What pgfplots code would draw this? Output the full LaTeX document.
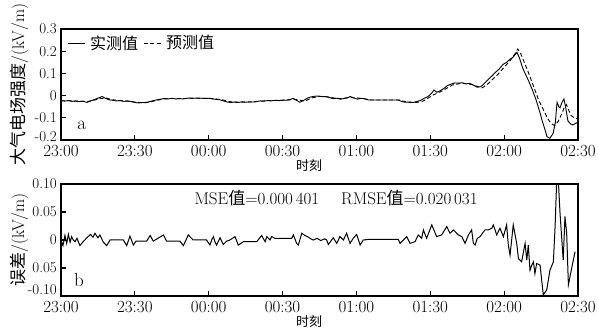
\documentclass[border=0pt]{standalone}
\usepackage{pgfplots}
\pgfplotsset{compat=1.18}
\usepackage{pgfplotstable}
\usepackage{fontspec}
\newfontfamily\cjk{Noto Sans CJK SC}
\pgfplotstableread{
m v
0 -0.022
1.5 -0.025
3 -0.022
4.5 -0.026
6 -0.024
7.5 -0.027
9 -0.025
10.5 -0.031
12 -0.024
13.5 -0.018
15 -0.012
16.7 -0.004
18 -0.012
19.5 -0.019
21 -0.021
22.5 -0.024
24 -0.022
25.5 -0.026
27 -0.024
28.5 -0.027
30 -0.031
31.5 -0.033
33 -0.031
34.5 -0.032
36 -0.027
37.5 -0.023
39 -0.019
40.5 -0.016
42 -0.013
43.5 -0.015
45 -0.012
46.5 -0.015
48 -0.013
49.5 -0.015
51 -0.012
52.5 -0.011
54 -0.012
55.5 -0.011
57 -0.012
58.5 -0.013
60 -0.012
61.5 -0.015
63 -0.017
64.5 -0.019
66 -0.024
67.5 -0.029
69 -0.031
70.5 -0.029
72 -0.031
73.5 -0.028
75 -0.030
76.5 -0.028
78 -0.029
79.5 -0.026
81 -0.024
82.5 -0.025
84 -0.022
85.5 -0.024
87 -0.021
88.5 -0.023
90 -0.020
91.5 -0.021
93 -0.018
94.3 -0.012
95.5 -0.020
97 -0.030
98.5 -0.022
100 -0.012
101.5 -0.006
103 -0.003
104.5 -0.002
106 -0.004
107.5 -0.005
109 -0.008
110.5 -0.014
112 -0.012
113.5 -0.016
115 -0.013
116.5 -0.009
117.5 -0.004
119 -0.011
120.5 -0.016
122 -0.012
123.5 -0.015
125 -0.020
137 -0.020
138.5 -0.027
140 -0.030
141.5 -0.029
143 -0.031
144.5 -0.027
146 -0.022
147.5 -0.012
149 -0.005
150.5 0.010
151.5 0.025
152.7 0.015
154 0.022
155.5 0.032
157 0.045
158.5 0.052
160 0.057
161.5 0.056
163 0.058
164.5 0.053
166 0.055
167.5 0.047
169 0.038
170.5 0.040
172 0.055
173.5 0.072
175 0.088
176.5 0.105
178 0.120
179.5 0.140
181 0.150
182.5 0.165
183.5 0.172
184.5 0.185
185.2 0.195
186.2 0.170
187.5 0.125
188.5 0.100
190 0.065
191.5 0.025
193 -0.020
194.5 -0.075
195.5 -0.115
196.5 -0.150
197.4 -0.185
198.6 -0.192
199.9 -0.170
200.8 -0.120
201.5 -0.030
202.2 -0.050
202.7 -0.055
203.5 -0.030
204.3 -0.015
205.1 -0.060
205.9 -0.114
207 -0.128
208 -0.132
209 -0.125
210 -0.120
}\measured
\pgfplotstableread{
m v
0 -0.023
3 -0.023
6 -0.025
9 -0.026
12 -0.025
15 -0.016
18 -0.010
21 -0.019
24 -0.023
27 -0.025
30 -0.029
33 -0.032
36 -0.029
39 -0.021
42 -0.015
45 -0.013
48 -0.014
51 -0.013
54 -0.012
57 -0.012
60 -0.012
63 -0.015
66 -0.020
69 -0.028
72 -0.030
75 -0.029
78 -0.029
81 -0.025
84 -0.023
87 -0.022
90 -0.021
93 -0.019
96 -0.018
99 -0.025
102 -0.010
105 -0.004
108 -0.005
111 -0.011
114 -0.014
117 -0.009
120 -0.010
123 -0.014
126 -0.020
137.7 -0.020
139 -0.025
141 -0.030
143 -0.031
145 -0.030
147 -0.025
149 -0.012
151 0.002
153 0.012
155 0.022
157 0.035
159 0.048
161 0.052
163 0.055
165 0.053
167 0.050
169 0.042
171 0.035
173 0.048
175 0.070
177 0.090
179 0.115
181 0.140
183 0.165
184.5 0.190
185.5 0.210
186.5 0.195
188 0.155
190 0.100
192 0.040
194 -0.020
196 -0.065
197.5 -0.100
199 -0.125
200.5 -0.135
202 -0.115
203.5 -0.080
204.5 -0.050
205.3 -0.040
206 -0.060
207.2 -0.090
208.5 -0.100
210 -0.105
}\predicted
\pgfplotstableread{
m v
0 0
0.8 -0.010
1.6 0.008
2.3 -0.006
3 0.010
3.7 -0.004
4.3 0.006
5 0.000
5.7 -0.003
6.5 0.003
7.7 -0.010
9 -0.003
10.5 0.004
12 0.010
13 0.005
13.8 0.012
15 0.004
15.8 0.009
17.2 -0.004
18.6 -0.010
19.9 0.000
25.3 0.000
26.7 -0.010
28 0.007
29.4 -0.009
30.5 -0.002
34.8 -0.002
36.2 0.008
37.5 -0.002
41.6 0.009
42.9 -0.002
48.3 -0.002
49.7 -0.010
51.7 0.009
53.7 0.000
59.1 0.000
60.5 -0.009
61.2 0.000
61.9 0.006
62.5 -0.003
63.2 -0.009
64.6 0.004
65.9 -0.008
67.3 -0.002
68.6 0.000
70.7 0.006
72.0 -0.009
74.1 -0.003
79.5 -0.003
81.5 0.008
82.9 -0.003
83.6 0.006
84.9 0.000
85.6 0.006
86.9 0.003
93.7 0.003
94.4 0.009
95.7 -0.006
96.4 -0.009
97.8 0.012
99.1 0.008
100.5 0.005
101.5 0.002
102.5 0.000
104 0.003
105.5 -0.001
107 0.002
107.9 0.000
108.6 -0.008
110.6 0.004
112 -0.006
113.3 0.006
114.7 0.000
116 0.012
117.4 -0.006
118.7 0.003
120.1 0.010
121.5 -0.009
122.8 0.000
124.8 0.001
137 0.001
137.7 -0.006
139.1 0.000
140.4 0.006
141.8 -0.006
143.8 -0.003
145.1 0.009
146.5 0.003
147.2 0.018
148.5 0.003
150.6 0.027
152.6 0.006
154.6 0.009
156.7 0.024
158.0 0.012
159.4 0.018
161.4 0.009
162.8 0.006
164.1 -0.006
165.5 0.009
166.8 0.018
167.5 -0.006
168.2 -0.009
169.1 0.003
170.2 0.006
172.2 0.018
173.6 0.018
175.0 0.021
175.6 0.027
177.0 0.009
178.3 0.021
179.7 0.006
181.0 0.027
181.7 -0.009
182.4 -0.027
183.7 0.027
185.1 -0.006
185.8 -0.033
187.1 -0.039
188.5 -0.006
189.2 -0.036
189.8 -0.009
190.5 -0.054
191.2 -0.045
191.9 -0.039
192.5 -0.060
193.2 -0.042
194.6 -0.045
195.9 -0.098
197.3 -0.089
198.6 -0.054
200.0 -0.039
200.7 0.024
201.3 0.101
202.0 0.108
202.7 0.048
204.0 -0.036
204.7 0.042
205.4 0.012
206.1 -0.080
207.4 -0.051
208.8 -0.021
}\errdata
\pgfplotsset{
  base/.style={
    scale only axis, width=517pt,
    xmin=0, xmax=210,
    xtick={0,30,...,210},
    xticklabels={23:00,23:30,00:00,00:30,01:00,01:30,02:00,02:30},
    tick align=inside, xtick pos=left, ytick pos=left,
    major tick length=5pt,
    axis line style={line width=1.2pt},
    every tick/.style={black, line width=1.2pt},
    xticklabel style={font=\fontsize{17}{19}\selectfont, inner sep=1pt, yshift=-4pt},
    yticklabel style={font=\fontsize{15}{18}\selectfont, inner sep=2pt, xshift=-2pt},
    ylabel style={at={(axis description cs:-0.081,0.5)}, anchor=center, font=\fontsize{17}{20}\selectfont},
    xlabel style={anchor=center, font=\cjk\fontsize{13}{15}\selectfont},
    legend cell align=left,
  }
}
\begin{document}
\begin{tikzpicture}
\useasboundingbox (-61pt,-189pt) rectangle (537pt,140pt);
\begin{axis}[base, at={(0pt,0pt)}, anchor=south west, height=111pt,
  ymin=-0.2, ymax=0.3,
  ytick={-0.2,-0.1,0,0.1,0.2,0.3},
  yticklabels={\raisebox{-1.5pt}[0pt][0pt]{-0.2},{-}0.1,0,0.1,0.2,0.3},
  ylabel={{\cjk 大气电场强度}/(kV/m)},
  xlabel={时刻},
  xlabel style={at={(axis description cs:0.48,-0.23)}},
  legend columns=2,
  legend style={at={(0.006,0.874)}, anchor=west, draw=none, fill=none,
    font=\cjk\fontsize{16}{18}\selectfont, column sep=3pt},
  legend image code/.code={\draw[#1] (0pt,0pt) -- (17pt,0pt);},
]
\addplot[black, line width=0.9pt] table[x=m,y=v] {\measured};
\addlegendentry{实测值}
\addplot[black, line width=0.9pt, dash pattern=on 4pt off 2.5pt] table[x=m,y=v] {\predicted};
\addlegendentry{预测值}
\node[font=\fontsize{19}{21}\selectfont] at (rel axis cs:0.04,0.13) {a};
\end{axis}
\begin{axis}[base, at={(0pt,-156pt)}, anchor=south west, height=112pt,
  ymin=-0.1, ymax=0.1,
  ytick={-0.1,-0.05,0,0.05,0.1},
  yticklabels={\raisebox{1pt}[0pt][0pt]{-0.10},0.05,0,0.05,0.10},
  ylabel={{\cjk 误差}/(kV/m)},
  xlabel={时刻},
  xlabel style={at={(axis description cs:0.48,-0.232)}},
]
\addplot[black, line width=1pt] table[x=m,y=v] {\errdata};
\node[font=\fontsize{19}{21}\selectfont] at (rel axis cs:0.035,0.14) {b};
\node[font=\fontsize{17}{19}\selectfont] at (rel axis cs:0.532,0.875) {MSE{\cjk 值}=0.000\,401\hspace{22pt}RMSE{\cjk 值}=0.020\,031};
\end{axis}
\end{tikzpicture}
\end{document}
